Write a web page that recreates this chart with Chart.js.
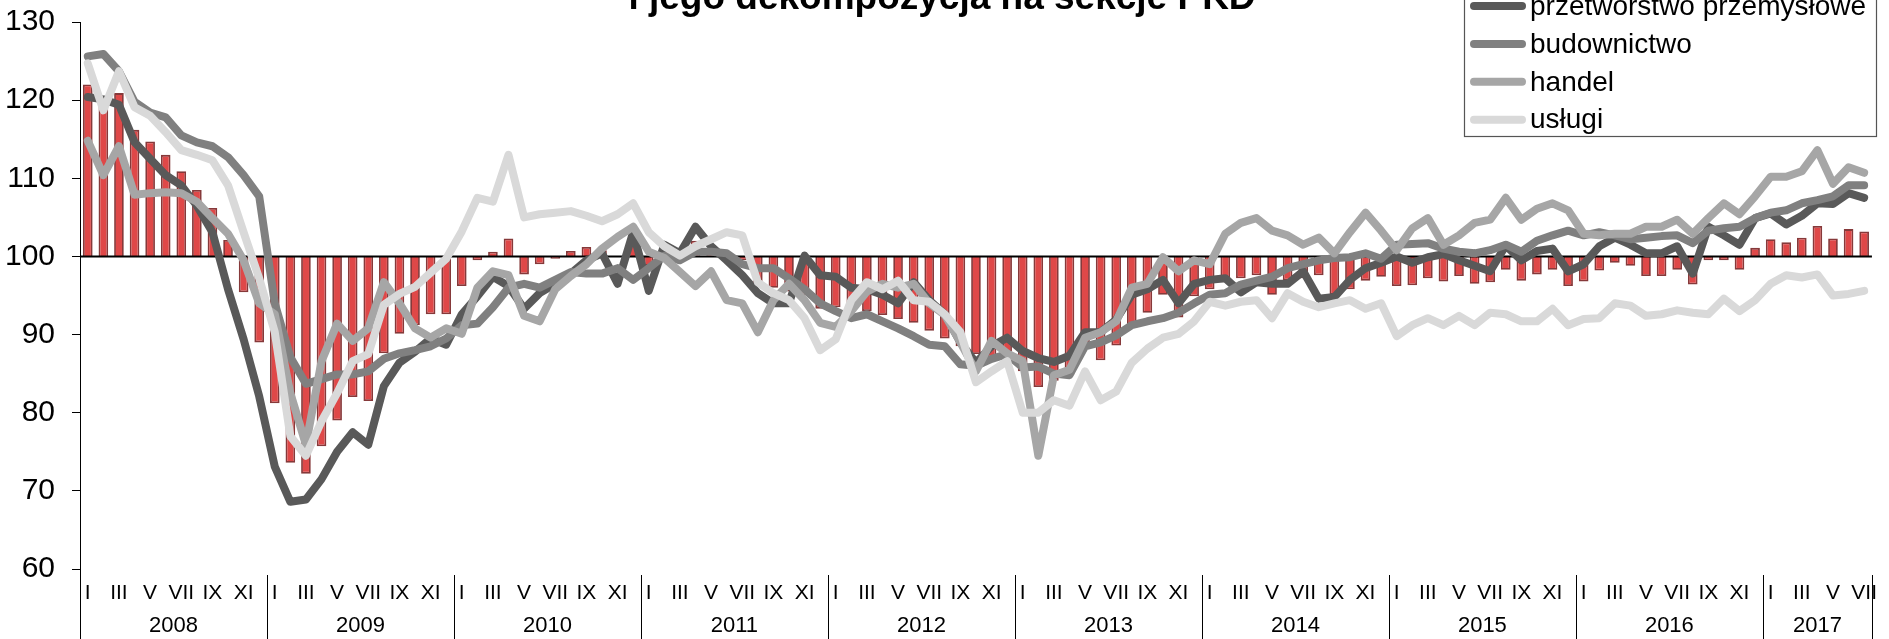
<!DOCTYPE html>
<html lang="pl">
<head>
<meta charset="utf-8">
<title>Koniunktura według sekcji PKD</title>
<script src="https://cdn.jsdelivr.net/npm/chart.js@4.4.1/dist/chart.umd.min.js"></script>
<style>
  html, body { margin: 0; padding: 0; background: #fff; }
  canvas { display: block; }
</style>
</head>
<body>
<canvas id="chart" width="1889" height="639"></canvas>
<script>
const FONT = "'Liberation Sans', Arial, sans-serif";

// Osie: lata i miesiące (2017 kończy się na lipcu)
const years = ['2008', '2009', '2010', '2011', '2012', '2013', '2014', '2015', '2016', '2017'];
const monthNames = ['I', 'II', 'III', 'IV', 'V', 'VI', 'VII', 'VIII', 'IX', 'X', 'XI', 'XII'];
const monthsInLastYear = 7;
const yTicks = [60, 70, 80, 90, 100, 110, 120, 130];

// Wskaźnik ogólny (słupki wokół 100)
const ogolny = [
  122.0, 120.5, 120.9, 116.2, 114.7, 113.0, 110.9, 108.5, 106.2, 102.1, 95.4, 89.0,
  81.2, 73.6, 72.2, 75.7, 79.0, 82.0, 81.5, 87.6, 90.1, 91.2, 92.6, 92.6,
  96.2, 99.5, 100.6, 102.3, 97.7, 99.0, 99.7, 100.7, 101.2, 100.8, 100.0, 102.5,
  98.8, 101.0, 100.5, 102.0, 101.0, 100.3, 99.5, 96.5, 96.0, 95.5, 95.0, 93.3,
  93.5, 93.0, 93.0, 92.5, 92.0, 91.5, 90.5, 89.5, 88.5, 87.5, 87.1, 87.8,
  85.3, 83.3, 84.1, 84.8, 88.7, 86.7, 88.6, 91.2, 92.8, 95.1, 92.2, 94.9,
  95.8, 96.7, 97.2, 97.6, 95.1, 96.9, 97.2, 97.6, 95.1, 95.8, 96.9, 97.4,
  96.2, 96.3, 97.2, 96.8, 97.5, 96.5, 96.7, 98.3, 96.9, 97.7, 98.3, 96.2,
  96.8, 98.2, 99.2, 98.8, 97.5, 97.5, 98.3, 96.4, 99.5, 99.5, 98.3, 101.1,
  102.2, 101.8, 102.4, 103.9, 102.3, 103.5, 103.2
];

const przetworstwo = [
  120.4, 120.1, 119.4, 114.6, 112.5, 110.4, 109.1, 106.5, 103.1, 95.8, 89.4, 82.1,
  73.1, 68.6, 68.9, 71.5, 75.0, 77.5, 75.9, 83.4, 86.4, 87.8, 89.5, 88.7,
  92.6, 94.9, 97.4, 96.2, 93.3, 95.3, 96.5, 97.8, 99.5, 100.4, 96.5, 103.1,
  95.6, 101.5, 100.4, 103.8, 101.3, 99.5, 97.6, 95.3, 94.0, 94.0, 100.1, 97.6,
  97.4, 96.0, 95.8, 95.1, 94.0, 96.7, 94.4, 92.6, 89.0, 86.4, 88.5, 89.6,
  87.9, 87.0, 86.5, 87.3, 90.3, 90.3, 91.9, 95.1, 95.8, 97.0, 94.0, 96.5,
  97.0, 97.2, 95.4, 96.7, 96.5, 96.5, 98.1, 94.6, 94.8, 97.0, 98.5, 99.2,
  100.0, 99.2, 99.9, 100.3, 99.5, 98.8, 98.1, 101.4, 99.5, 100.7, 101.0, 98.1,
  99.0, 101.3, 102.4, 101.5, 100.4, 100.4, 101.3, 97.8, 103.8, 102.7, 101.5, 104.9,
  105.5, 104.1, 105.2, 106.8, 106.7, 108.1, 107.5
];

const budownictwo = [
  125.6, 125.9, 123.7, 119.8, 118.4, 117.8, 115.5, 114.6, 114.1, 112.7, 110.4, 107.7,
  94.0, 87.1, 83.7, 84.3, 84.9, 84.9, 85.3, 86.9, 87.6, 88.0, 88.5, 89.5,
  91.2, 91.4, 93.5, 96.0, 96.5, 96.0, 97.0, 98.0, 97.8, 97.8, 98.5, 97.0,
  98.5, 100.1, 99.5, 100.6, 100.6, 100.4, 99.0, 98.5, 98.5, 97.2, 95.8, 94.0,
  93.0, 92.1, 92.6, 91.7, 90.8, 89.8, 88.7, 88.5, 86.2, 86.0, 86.9, 87.5,
  85.8, 85.9, 85.0, 84.8, 88.5, 89.0, 89.9, 91.2, 91.7, 92.1, 92.8, 94.0,
  95.1, 95.3, 96.4, 96.9, 97.4, 98.5, 99.0, 99.5, 99.8, 99.9, 100.4, 99.7,
  101.5, 101.6, 101.7, 101.0, 100.6, 100.4, 100.8, 101.5, 100.6, 102.0, 102.7, 103.3,
  102.7, 103.1, 102.7, 102.2, 102.4, 102.6, 102.7, 101.7, 103.3, 103.6, 103.8, 104.9,
  105.6, 105.9, 106.8, 107.2, 107.7, 109.1, 109.1
];

const handel = [
  114.8, 110.4, 114.1, 107.9, 108.1, 108.2, 108.1, 107.0, 104.9, 102.9, 99.5, 94.0,
  92.6, 82.5, 75.9, 86.6, 91.4, 89.2, 90.8, 96.7, 94.0, 90.8, 89.6, 90.8,
  90.1, 96.0, 98.1, 97.6, 92.4, 91.7, 95.8, 97.5, 99.0, 101.0, 102.5, 103.8,
  100.6, 99.8, 98.0, 96.2, 98.1, 94.4, 94.0, 90.3, 94.4, 96.5, 94.4, 91.5,
  91.0, 93.0, 95.5, 96.5, 96.0, 96.5, 94.0, 92.5, 89.0, 85.3, 89.2, 87.6,
  86.6, 74.5, 84.8, 85.5, 89.6, 90.3, 91.7, 96.0, 96.5, 99.9, 98.1, 99.5,
  99.0, 102.9, 104.3, 104.9, 103.3, 102.7, 101.5, 102.4, 100.4, 103.1, 105.6, 103.3,
  100.8, 103.6, 104.9, 101.5, 102.7, 104.3, 104.7, 107.5, 104.7, 106.1, 106.8, 105.9,
  102.9, 102.7, 102.9, 102.9, 103.8, 103.8, 104.7, 102.9, 104.9, 106.8, 105.4, 107.7,
  110.2, 110.2, 110.9, 113.6, 109.3, 111.4, 110.7
];

const uslugi = [
  124.7, 118.7, 123.7, 119.1, 118.0, 115.9, 113.6, 113.0, 112.3, 109.1, 103.1, 97.2,
  90.3, 77.0, 74.5, 78.9, 82.5, 86.6, 87.5, 93.8, 95.2, 96.1, 97.9, 99.7,
  103.2, 107.5, 107.0, 113.0, 105.0, 105.4, 105.6, 105.8, 105.2, 104.5, 105.4, 106.8,
  103.1, 101.3, 100.1, 101.3, 102.2, 103.1, 102.7, 96.7, 95.3, 94.4, 92.1, 88.0,
  89.4, 94.4, 96.7, 95.8, 96.9, 94.4, 94.2, 92.6, 90.3, 83.9, 85.3, 86.6,
  80.0, 80.0, 81.6, 80.9, 85.3, 81.6, 82.7, 86.4, 88.2, 89.6, 90.1, 91.7,
  94.2, 93.7, 94.2, 94.4, 92.1, 95.3, 94.2, 93.5, 94.0, 94.4, 93.3, 94.0,
  89.8, 91.2, 92.1, 91.2, 92.4, 91.2, 92.8, 92.6, 91.7, 91.7, 93.3, 91.2,
  92.0, 92.1, 94.0, 93.7, 92.4, 92.6, 93.1, 92.8, 92.6, 94.6, 93.0, 94.4,
  96.5, 97.6, 97.3, 97.7, 95.0, 95.2, 95.6
];

const colors = {
  bar: '#df4848',
  barEdge: '#86393a',
  przetworstwo: '#595959',
  budownictwo: '#808080',
  handel: '#a6a6a6',
  uslugi: '#d9d9d9'
};

/**
 * Builds month categories, e.g. "III 2010".
 * @returns {Array<string>}
 */
function buildCategories() {
  const out = [];
  years.forEach((year, yi) => {
    const n = yi === years.length - 1 ? monthsInLastYear : 12;
    for (let m = 0; m < n; m++) out.push(monthNames[m] + ' ' + year);
  });
  return out;
}

const categories = buildCategories();

/**
 * Line dataset helper.
 */
function lineSeries(label, data, color, order) {
  return {
    type: 'line',
    label,
    data,
    borderColor: color,
    backgroundColor: color,
    borderWidth: 8,
    borderJoinStyle: 'round',
    borderCapStyle: 'round',
    pointRadius: 0,
    tension: 0,
    order
  };
}

// Linia 100, podpisy lat, separatory, tytuł i legenda
const decorations = {
  id: 'decorations',
  afterDatasetDraw(chart, args) {
    if (args.meta.type !== 'bar') return;
    const { ctx, chartArea } = chart;
    const y = Math.round(chart.scales.y.getPixelForValue(100)) + 0.5;
    ctx.save();
    ctx.strokeStyle = '#000';
    ctx.lineWidth = 2;
    ctx.beginPath();
    ctx.moveTo(chartArea.left, y);
    ctx.lineTo(chartArea.right, y);
    ctx.stroke();
    ctx.restore();
  },
  afterDraw(chart) {
    const { ctx, chartArea, scales: { x } } = chart;
    const half = (x.getPixelForValue(1) - x.getPixelForValue(0)) / 2;
    const bottom = chart.height;

    ctx.save();
    ctx.strokeStyle = '#000';
    ctx.lineWidth = 1;

    // przedłużenie osi Y w dół
    ctx.beginPath();
    ctx.moveTo(chartArea.left + 0.5, chartArea.bottom);
    ctx.lineTo(chartArea.left + 0.5, bottom);
    ctx.stroke();

    ctx.fillStyle = '#000';
    ctx.font = `22px ${FONT}`;
    ctx.textAlign = 'center';
    ctx.textBaseline = 'middle';

    let start = 0;
    years.forEach((year, yi) => {
      const n = yi === years.length - 1 ? monthsInLastYear : 12;
      const x0 = x.getPixelForValue(start) - half;
      const x1 = x.getPixelForValue(start + n - 1) + half;
      ctx.fillText(year, (x0 + x1) / 2, chartArea.bottom + 57);
      const sx = Math.round(x1) + 0.5;
      ctx.beginPath();
      ctx.moveTo(sx, chartArea.bottom + 6);
      ctx.lineTo(sx, bottom);
      ctx.stroke();
      start += n;
    });

    // tytuł (górna część poza kadrem)
    ctx.font = `bold 37px ${FONT}`;
    ctx.textBaseline = 'alphabetic';
    ctx.fillText('i jego dekompozycja na sekcje PKD', 942, 9);

    // legenda
    const items = [
      ['przetwórstwo przemysłowe', colors.przetworstwo],
      ['budownictwo', colors.budownictwo],
      ['handel', colors.handel],
      ['usługi', colors.uslugi]
    ];
    const boxL = 1464.5, boxR = 1876.5, boxB = 136.5;
    ctx.fillStyle = '#fff';
    ctx.fillRect(boxL, -40, boxR - boxL, boxB + 40);
    ctx.strokeStyle = '#555';
    ctx.lineWidth = 1.2;
    ctx.strokeRect(boxL, -40, boxR - boxL, boxB + 40);

    ctx.font = `28px ${FONT}`;
    ctx.textAlign = 'left';
    ctx.textBaseline = 'middle';
    items.forEach(([text, color], k) => {
      const ry = 6 + k * 37.9;
      ctx.strokeStyle = color;
      ctx.lineWidth = 8;
      ctx.lineCap = 'round';
      ctx.beginPath();
      ctx.moveTo(1474, ry);
      ctx.lineTo(1522, ry);
      ctx.stroke();
      ctx.fillStyle = '#000';
      ctx.fillText(text, 1530, ry + 1);
    });
    ctx.restore();
  }
};

new Chart(document.getElementById('chart'), {
  type: 'bar',
  data: {
    labels: categories,
    datasets: [
      {
        type: 'bar',
        label: 'wskaźnik ogólny',
        data: ogolny,
        base: 100,
        backgroundColor: colors.bar,
        borderColor: colors.barEdge,
        borderWidth: 1.8,
        borderSkipped: 'start',
        barPercentage: 0.62,
        categoryPercentage: 1.0,
        order: 5
      },
      lineSeries('przetwórstwo przemysłowe', przetworstwo, colors.przetworstwo, 4),
      lineSeries('budownictwo', budownictwo, colors.budownictwo, 3),
      lineSeries('handel', handel, colors.handel, 2),
      lineSeries('usługi', uslugi, colors.uslugi, 1)
    ]
  },
  options: {
    responsive: false,
    animation: false,
    layout: { padding: { top: 22, right: 3, left: 0, bottom: 0 } },
    plugins: {
      legend: { display: false },
      title: { display: false },
      tooltip: { enabled: false }
    },
    scales: {
      x: {
        offset: true,
        grid: { display: false, drawTicks: false },
        border: { display: false },
        ticks: {
          autoSkip: false,
          maxRotation: 0,
          minRotation: 0,
          padding: 12,
          color: '#000',
          font: { family: FONT, size: 21 },
          callback: (value, index) => (index % 12) % 2 === 0 ? monthNames[index % 12] : ''
        },
        afterFit: (scale) => { scale.height = 70; }
      },
      y: {
        min: yTicks[0],
        max: yTicks[yTicks.length - 1],
        afterBuildTicks: (scale) => { scale.ticks = yTicks.map(v => ({ value: v })); },
        grid: { drawOnChartArea: false, drawTicks: true, tickLength: 8, color: '#000' },
        border: { display: true, color: '#000', width: 1 },
        ticks: {
          padding: 17,
          color: '#000',
          font: { family: FONT, size: 30 }
        },
        afterFit: (scale) => {
          scale.width = 80;
          scale.paddingTop = 0;
          scale.paddingBottom = 0;
        }
      }
    }
  },
  plugins: [decorations]
});
</script>
</body>
</html>
